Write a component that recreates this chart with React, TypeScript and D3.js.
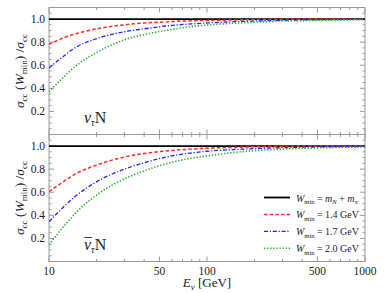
import React from "react";
import * as d3 from "d3";

const energies = [10, 12, 15, 20, 30, 40, 60, 80, 100, 150, 200, 300, 500, 1000];

const nuRed = [0.78, 0.83, 0.875, 0.915, 0.95, 0.965, 0.978, 0.985, 0.988, 0.992, 0.995, 0.997, 0.998, 0.999];
const nuBlue = [0.575, 0.665, 0.76, 0.83, 0.89, 0.915, 0.945, 0.958, 0.966, 0.977, 0.983, 0.989, 0.994, 0.997];
const nuGreen = [0.37, 0.48, 0.6, 0.71, 0.82, 0.865, 0.91, 0.935, 0.948, 0.964, 0.973, 0.982, 0.989, 0.995];

const nubarRed = [0.605, 0.68, 0.765, 0.835, 0.905, 0.935, 0.962, 0.974, 0.981, 0.989, 0.993, 0.996, 0.998, 0.999];
const nubarBlue = [0.345, 0.455, 0.575, 0.69, 0.8, 0.855, 0.915, 0.94, 0.955, 0.97, 0.978, 0.986, 0.992, 0.996];
const nubarGreen = [0.145, 0.28, 0.43, 0.575, 0.715, 0.785, 0.86, 0.895, 0.915, 0.945, 0.96, 0.973, 0.984, 0.992];

const threshold = [1, 1, 1, 1, 1, 1, 1, 1, 1, 1, 1, 1, 1, 1];

const xMajorTicks = [10, 50, 100, 500, 1000];
const yMajorTicks = [0.2, 0.4, 0.6, 0.8, 1.0];

type Seg = { t: string; it?: boolean; sub?: boolean };

const legendLabels: Seg[][] = [
  [{ t: "W", it: true }, { t: "min", sub: true }, { t: " = " }, { t: "m", it: true }, { t: "N", it: true, sub: true }, { t: " + " }, { t: "m", it: true }, { t: "π", it: true, sub: true }],
  [{ t: "W", it: true }, { t: "min", sub: true }, { t: " = 1.4 GeV" }],
  [{ t: "W", it: true }, { t: "min", sub: true }, { t: " = 1.7 GeV" }],
  [{ t: "W", it: true }, { t: "min", sub: true }, { t: " = 2.0 GeV" }],
];

const yLabelSegs: Seg[] = [
  { t: "σ", it: true }, { t: "cc", sub: true }, { t: " (" }, { t: "W", it: true }, { t: "min", sub: true }, { t: ") /" }, { t: "σ", it: true }, { t: "cc", sub: true },
];
const xLabelSegs: Seg[] = [{ t: "E", it: true }, { t: "ν", it: true, sub: true }, { t: " [GeV]" }];
const nuSegs: Seg[] = [{ t: "ν", it: true }, { t: "τ", it: true, sub: true }, { t: "N" }];

const styles = [
  { color: "#000000", dash: "", width: 1.8 },
  { color: "#ff2a2a", dash: "3.5,2.2", width: 1.5 },
  { color: "#2222ff", dash: "4,1.8,1.2,1.8", width: 1.3 },
  { color: "#22b022", dash: "1.3,1.8", width: 1.6 },
];

const W = 390;
const H = 293;
const left = 49;
const right = 365;
const serif = "'Liberation Serif', 'DejaVu Serif', serif";
const frameColor = "#9a9a9a";

const x = d3.scaleLog().domain([10, 1000]).range([left, right]);

function RichText({ segs, subSize, shift }: { segs: Seg[]; subSize: number; shift: number }) {
  let prevSub = false;
  return (
    <>
      {segs.map((s, i) => {
        const isSub = !!s.sub;
        const dy = isSub === prevSub ? 0 : isSub ? shift : -shift;
        prevSub = isSub;
        return (
          <tspan
            key={i}
            dy={dy || undefined}
            fontStyle={s.it ? "italic" : "normal"}
            fontSize={isSub ? subSize : undefined}
          >
            {s.t}
          </tspan>
        );
      })}
    </>
  );
}

function xMinor(): number[] {
  const out: number[] = [];
  for (const dec of [10, 100]) {
    for (let k = 1; k < 10; k++) {
      const v = dec * k;
      if (v > 1000) continue;
      if (!xMajorTicks.includes(v)) out.push(v);
    }
  }
  return out;
}

function yMinor(): number[] {
  const out: number[] = [];
  for (let i = 1; i <= 21; i++) {
    const v = +(i * 0.05).toFixed(2);
    if (!yMajorTicks.some((t) => Math.abs(t - v) < 1e-6)) out.push(v);
  }
  return out;
}

function Panel({
  top,
  bottom,
  series,
  bar,
  showXLabels,
  showLegend,
}: {
  top: number;
  bottom: number;
  series: number[][];
  bar: boolean;
  showXLabels: boolean;
  showLegend: boolean;
}) {
  const y = d3.scaleLinear().domain([0, 1.1]).range([bottom, top]);
  const line = d3
    .line<number>()
    .x((_, i) => x(energies[i]))
    .y((d) => y(d))
    .curve(d3.curveMonotoneX);
  const clipId = `clip-${Math.round(top)}`;
  const xmin = xMinor();
  const ymin = yMinor();
  const cy = (top + bottom) / 2;
  return (
    <g>
      <defs>
        <clipPath id={clipId}>
          <rect x={left} y={top} width={right - left} height={bottom - top} />
        </clipPath>
      </defs>
      <rect x={left} y={top} width={right - left} height={bottom - top} fill="none" stroke={frameColor} strokeWidth={1} />
      {xMajorTicks.map((t) => (
        <g key={"xM" + t}>
          <line x1={x(t)} x2={x(t)} y1={bottom} y2={bottom - 5} stroke={frameColor} />
          <line x1={x(t)} x2={x(t)} y1={top} y2={top + 5} stroke={frameColor} />
        </g>
      ))}
      {xmin.map((t) => (
        <g key={"xm" + t}>
          <line x1={x(t)} x2={x(t)} y1={bottom} y2={bottom - 2.5} stroke={frameColor} />
          <line x1={x(t)} x2={x(t)} y1={top} y2={top + 2.5} stroke={frameColor} />
        </g>
      ))}
      {yMajorTicks.map((t) => (
        <g key={"yM" + t}>
          <line x1={left} x2={left + 5} y1={y(t)} y2={y(t)} stroke={frameColor} />
          <line x1={right} x2={right - 5} y1={y(t)} y2={y(t)} stroke={frameColor} />
          <text x={left - 4} y={y(t) + 4} textAnchor="end" fontFamily={serif} fontSize={11.5} fill="#222">
            {t.toFixed(1)}
          </text>
        </g>
      ))}
      {ymin.map((t) => (
        <g key={"ym" + t}>
          <line x1={left} x2={left + 2.5} y1={y(t)} y2={y(t)} stroke={frameColor} />
          <line x1={right} x2={right - 2.5} y1={y(t)} y2={y(t)} stroke={frameColor} />
        </g>
      ))}
      {showXLabels &&
        xMajorTicks.map((t) => (
          <text key={"xl" + t} x={x(t)} y={bottom + 13} textAnchor="middle" fontFamily={serif} fontSize={11.5} fill="#222">
            {t}
          </text>
        ))}
      <g clipPath={`url(#${clipId})`}>
        {series.map((s, i) => (
          <path
            key={i}
            d={line(s) || ""}
            fill="none"
            stroke={styles[i].color}
            strokeWidth={styles[i].width}
            strokeDasharray={styles[i].dash}
          />
        ))}
      </g>
      <text
        transform={`translate(${24},${cy}) rotate(-90)`}
        textAnchor="middle"
        fontFamily={serif}
        fontSize={13.5}
        fill="#222"
      >
        <RichText segs={yLabelSegs} subSize={9} shift={3} />
      </text>
      <text x={84} y={bottom - 12} fontFamily={serif} fontSize={16} fill="#222">
        <RichText segs={nuSegs} subSize={10} shift={3} />
      </text>
      {bar && <line x1={84.5} x2={92} y1={bottom - 24} y2={bottom - 24} stroke="#222" strokeWidth={0.9} />}
      {showLegend &&
        legendLabels.map((segs, i) => {
          const ly = 197.5 + i * 16.9;
          return (
            <g key={"lg" + i}>
              <line
                x1={264}
                x2={290}
                y1={ly}
                y2={ly}
                stroke={styles[i].color}
                strokeWidth={styles[i].width}
                strokeDasharray={styles[i].dash}
              />
              <text x={296} y={ly + 4} fontFamily={serif} fontSize={10} fill="#222">
                <RichText segs={segs} subSize={6.5} shift={2.5} />
              </text>
            </g>
          );
        })}
    </g>
  );
}

export default function App() {
  return (
    <svg
      width={W}
      height={H}
      viewBox={`0 0 ${W} ${H}`}
      style={{ position: "absolute", left: 0, top: 0, background: "#fff" }}
    >
      <rect width={W} height={H} fill="#fff" />
      <Panel
        top={7.5}
        bottom={134.5}
        series={[threshold, nuRed, nuBlue, nuGreen]}
        bar={false}
        showXLabels={false}
        showLegend={false}
      />
      <Panel
        top={134.5}
        bottom={261.5}
        series={[threshold, nubarRed, nubarBlue, nubarGreen]}
        bar={true}
        showXLabels={true}
        showLegend={true}
      />
      <text x={207} y={287} textAnchor="middle" fontFamily={serif} fontSize={13} fill="#222">
        <RichText segs={xLabelSegs} subSize={9} shift={2.5} />
      </text>
    </svg>
  );
}
